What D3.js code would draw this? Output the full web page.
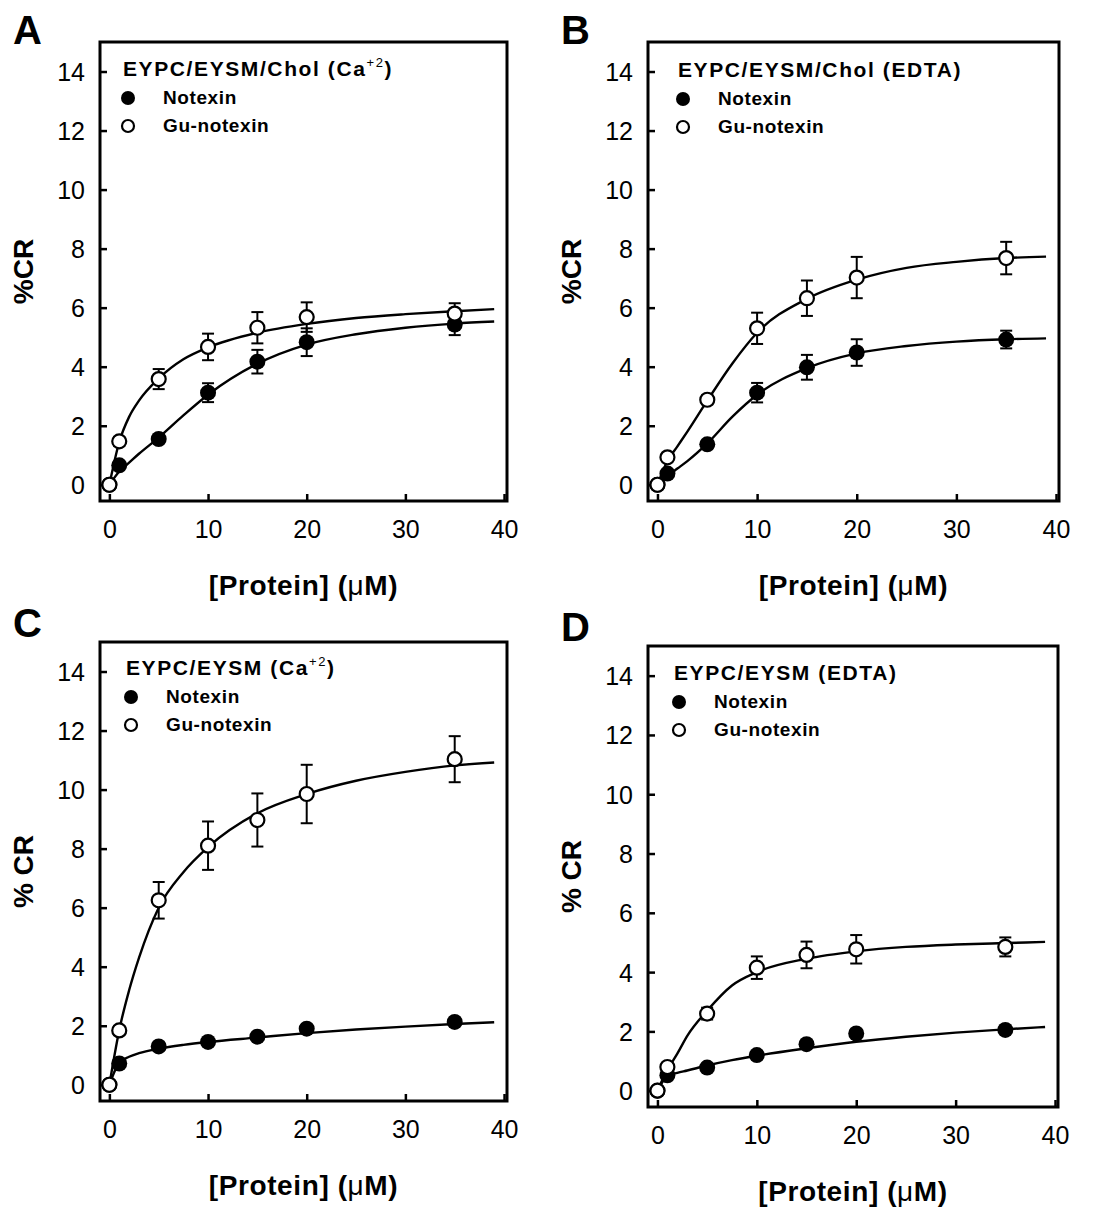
<!DOCTYPE html>
<html>
<head>
<meta charset="utf-8">
<script src="https://cdn.jsdelivr.net/npm/d3@7"></script>
<style>
  body { margin: 0; background: #fff; }
  svg text { font-family: "Liberation Sans", Arial, sans-serif; fill: #000; }
</style>
</head>
<body>
<div class="plot1"></div>
<script>
// protein concentrations (uM)
var conc = [0, 1, 5, 10, 15, 20, 35];
var fitX = [0, 1, 2, 3, 5, 7.5, 10, 15, 20, 25, 30, 35, 39];

var xTicks = [0, 10, 20, 30, 40];
var yTicks = [0, 2, 4, 6, 8, 10, 12, 14];

// A: EYPC/EYSM/Chol (Ca+2)
var notexinA = [0, 0.66, 1.55, 3.12, 4.17, 4.83, 5.43];
var notexinA_err = [0, 0.1, 0.12, 0.32, 0.4, 0.47, 0.36];
var guA = [0, 1.47, 3.58, 4.67, 5.32, 5.68, 5.8];
var guA_err = [0, 0.15, 0.34, 0.45, 0.53, 0.5, 0.35];
var notexinA_fit = [0, 0.45, 0.75, 1.05, 1.6, 2.35, 3.05, 4.1, 4.75, 5.1, 5.32, 5.46, 5.53];
var guA_fit = [0, 1.45, 2.3, 2.85, 3.6, 4.25, 4.65, 5.15, 5.45, 5.65, 5.78, 5.88, 5.95];

// B: EYPC/EYSM/Chol (EDTA)
var notexinB = [0, 0.38, 1.37, 3.12, 3.98, 4.48, 4.92];
var notexinB_err = [0, 0.1, 0.12, 0.33, 0.42, 0.45, 0.3];
var guB = [0, 0.93, 2.88, 5.3, 6.32, 7.02, 7.68];
var guB_err = [0, 0.1, 0.15, 0.53, 0.6, 0.7, 0.55];
var notexinB_fit = [0, 0.3, 0.55, 0.8, 1.4, 2.3, 3.05, 3.95, 4.45, 4.7, 4.85, 4.93, 4.96];
var guB_fit = [0, 0.8, 1.3, 1.8, 2.85, 4.1, 5.15, 6.3, 6.95, 7.35, 7.55, 7.68, 7.73];

// C: EYPC/EYSM (Ca+2)
var notexinC = [0, 0.72, 1.3, 1.45, 1.63, 1.9, 2.13];
var notexinC_err = [0, 0.08, 0.1, 0.1, 0.1, 0.12, 0.1];
var guC = [0, 1.84, 6.25, 8.1, 8.97, 9.85, 11.03];
var guC_err = [0, 0.15, 0.62, 0.82, 0.9, 0.99, 0.78];
var notexinC_fit = [0, 0.75, 0.95, 1.07, 1.22, 1.35, 1.45, 1.6, 1.75, 1.87, 1.97, 2.06, 2.12];
var guC_fit = [0, 1.85, 3.2, 4.3, 6.0, 7.2, 8.05, 9.2, 9.85, 10.3, 10.6, 10.82, 10.92];

// D: EYPC/EYSM (EDTA)
var notexinD = [0, 0.52, 0.78, 1.2, 1.57, 1.93, 2.05];
var notexinD_err = [0, 0.05, 0.08, 0.1, 0.12, 0.12, 0.1];
var guD = [0, 0.8, 2.6, 4.15, 4.58, 4.77, 4.85];
var guD_err = [0, 0.12, 0.2, 0.38, 0.45, 0.48, 0.32];
var notexinD_fit = [0, 0.5, 0.6, 0.68, 0.85, 1.03, 1.18, 1.43, 1.65, 1.82, 1.96, 2.07, 2.15];
var guD_fit = [0, 0.7, 1.25, 1.85, 2.7, 3.55, 4.0, 4.45, 4.7, 4.85, 4.93, 4.98, 5.02];

var panels = [
  { letter: "A", title: "EYPC/EYSM/Chol (Ca", sup: true, ylab: "%CR",
    box: { l: 100, t: 42, r: 507, b: 501 }, lx: 23, lyTitle: 76,
    notexin: notexinA, notexinErr: notexinA_err, gu: guA, guErr: guA_err,
    notexinFit: notexinA_fit, guFit: guA_fit },
  { letter: "B", title: "EYPC/EYSM/Chol (EDTA)", sup: false, ylab: "%CR",
    box: { l: 648, t: 42, r: 1059, b: 501 }, lx: 30, lyTitle: 77,
    notexin: notexinB, notexinErr: notexinB_err, gu: guB, guErr: guB_err,
    notexinFit: notexinB_fit, guFit: guB_fit },
  { letter: "C", title: "EYPC/EYSM (Ca", sup: true, ylab: "% CR",
    box: { l: 100, t: 642, r: 507, b: 1101 }, lx: 26, lyTitle: 675,
    notexin: notexinC, notexinErr: notexinC_err, gu: guC, guErr: guC_err,
    notexinFit: notexinC_fit, guFit: guC_fit },
  { letter: "D", title: "EYPC/EYSM (EDTA)", sup: false, ylab: "% CR",
    box: { l: 648, t: 646, r: 1058, b: 1107 }, lx: 26, lyTitle: 680,
    notexin: notexinD, notexinErr: notexinD_err, gu: guD, guErr: guD_err,
    notexinFit: notexinD_fit, guFit: guD_fit }
];

var svg = d3.select(".plot1").append("svg")
  .attr("width", 1096)
  .attr("height", 1208);

panels.forEach(function(p) { drawPanel(p); });

function drawPanel(p) {
  var b = p.box;
  var x = d3.scaleLinear().domain([-0.95, 40.3]).range([b.l, b.r]);
  var y = d3.scaleLinear().domain([-0.55, 15]).range([b.b, b.t]);
  var g = svg.append("g");

  // panel letter
  g.append("text")
    .attr("x", b.l - 87)
    .attr("y", b.t - (p.letter == "A" || p.letter == "B" ? -2 : 5))
    .style("font-size", "40px")
    .style("font-weight", "bold")
    .text(p.letter);

  // axes, ticks pointing inward
  var xAxis = g.append("g")
    .attr("transform", "translate(0," + b.b + ")")
    .call(d3.axisBottom(x).tickValues(xTicks).tickSizeInner(-7).tickSizeOuter(0).tickPadding(14));
  var yAxis = g.append("g")
    .attr("transform", "translate(" + b.l + ",0)")
    .call(d3.axisLeft(y).tickValues(yTicks).tickSizeInner(-7).tickSizeOuter(0).tickPadding(15));
  [xAxis, yAxis].forEach(function(a) {
    a.select(".domain").remove();
    a.selectAll(".tick line").attr("stroke", "#000").attr("stroke-width", 2.5);
    a.selectAll(".tick text")
      .style("font-family", '"Liberation Sans", Arial, sans-serif')
      .style("font-size", "25px");
  });
  xAxis.selectAll(".tick text").attr("dy", "0.9em");
  yAxis.selectAll(".tick text").attr("dy", "0.36em");

  // frame
  g.append("rect")
    .attr("x", b.l).attr("y", b.t)
    .attr("width", b.r - b.l).attr("height", b.b - b.t)
    .attr("fill", "none").attr("stroke", "#000").attr("stroke-width", 3);

  // axis titles
  var xl = g.append("text")
    .attr("x", (b.l + b.r) / 2)
    .attr("y", b.b + 94)
    .style("text-anchor", "middle")
    .style("font-size", "28px")
    .style("font-weight", "bold")
    .style("letter-spacing", "0.6px");
  xl.append("tspan").text("[Protein] (");
  xl.append("tspan").style("font-weight", "normal").text("\u03bc");
  xl.append("tspan").text("M)");

  g.append("text")
    .attr("transform", "translate(" + (b.l - 67) + "," + ((b.t + b.b) / 2) + ") rotate(-90)")
    .style("text-anchor", "middle")
    .style("font-size", "28px")
    .style("font-weight", "bold")
    .text(p.ylab);

  // fitted curves
  var line = d3.line()
    .x(function(d, i) { return x(fitX[i]); })
    .y(function(d) { return y(d); })
    .curve(d3.curveMonotoneX);
  [p.notexinFit, p.guFit].forEach(function(f) {
    g.append("path")
      .attr("d", line(f))
      .attr("fill", "none")
      .attr("stroke", "#000")
      .attr("stroke-width", 2.4);
  });

  // error bars
  [[p.notexin, p.notexinErr], [p.gu, p.guErr]].forEach(function(s) {
    var vals = s[0], errs = s[1];
    var eb = g.append("g").attr("stroke", "#000").attr("stroke-width", 2);
    conc.forEach(function(c, i) {
      if (errs[i] <= 0) return;
      var cx = x(c);
      eb.append("line").attr("x1", cx).attr("x2", cx)
        .attr("y1", y(vals[i] - errs[i])).attr("y2", y(vals[i] + errs[i]));
      [vals[i] - errs[i], vals[i] + errs[i]].forEach(function(v) {
        eb.append("line").attr("x1", cx - 6).attr("x2", cx + 6)
          .attr("y1", y(v)).attr("y2", y(v));
      });
    });
  });

  // markers
  g.selectAll("circle.notexin")
    .data(p.notexin)
    .enter()
    .append("circle")
    .attr("class", "notexin")
    .attr("cx", function(d, i) { return x(conc[i]); })
    .attr("cy", function(d) { return y(d); })
    .attr("r", 8)
    .style("fill", "#000");
  g.selectAll("circle.gu")
    .data(p.gu)
    .enter()
    .append("circle")
    .attr("class", "gu")
    .attr("cx", function(d, i) { return x(conc[i]); })
    .attr("cy", function(d) { return y(d); })
    .attr("r", 7)
    .style("fill", "#fff")
    .style("stroke", "#000")
    .style("stroke-width", 2.2);

  // legend
  var tx = b.l + p.lx;
  var title = g.append("text")
    .attr("x", tx)
    .attr("y", p.lyTitle)
    .style("font-size", "21px")
    .style("font-weight", "bold")
    .style("letter-spacing", "1.6px");
  title.append("tspan").text(p.title);
  if (p.sup) {
    title.append("tspan").attr("dy", -9).style("font-size", "13px").style("font-weight", "normal").text("+2");
    title.append("tspan").attr("dy", 9).text(")");
  }

  var items = ["Notexin", "Gu-notexin"];
  var legend = g.append("g");
  legend.selectAll("circle")
    .data(items)
    .enter()
    .append("circle")
    .attr("cx", tx + 5)
    .attr("cy", function(d, i) { return p.lyTitle + 22 + 28 * i; })
    .attr("r", function(d, i) { return i === 0 ? 7 : 6; })
    .style("fill", function(d, i) { return i === 0 ? "#000" : "#fff"; })
    .style("stroke", "#000")
    .style("stroke-width", function(d, i) { return i === 0 ? 0 : 2.2; });
  legend.selectAll("text")
    .data(items)
    .enter()
    .append("text")
    .attr("x", tx + 40)
    .attr("y", function(d, i) { return p.lyTitle + 28 + 28 * i; })
    .style("font-size", "19px")
    .style("font-weight", "bold")
    .style("letter-spacing", "0.6px")
    .text(function(d) { return d; });
}
</script>
</body>
</html>
